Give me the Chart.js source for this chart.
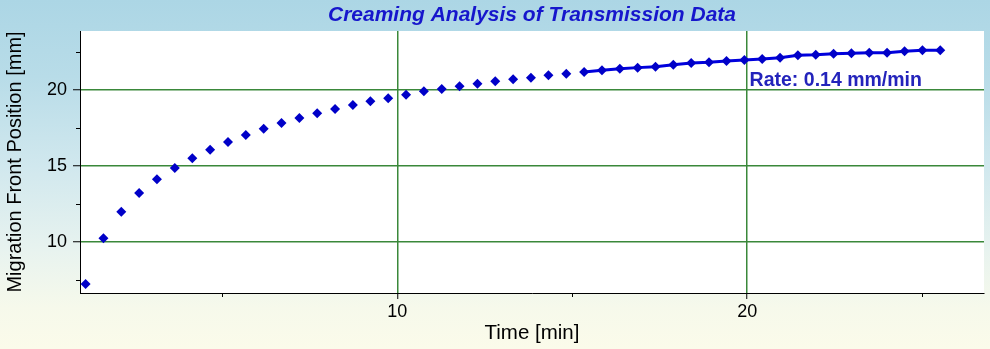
<!DOCTYPE html>
<html>
<head>
<meta charset="utf-8">
<script src="https://cdn.jsdelivr.net/npm/chart.js@4"></script>
<style>
  html, body { margin: 0; padding: 0; }
  body {
    width: 990px;
    height: 349px;
    background: linear-gradient(to bottom, #acd6e5 0%, #b8dce8 22%, #d1e8ee 48%, #e8f3ef 72%, #f6f9eb 88%, #fbfbea 100%);
  }
</style>
</head>
<body>
<canvas id="creamChart" width="990" height="349"></canvas>
<script>
// Time [min] of each transmission scan
const times = [
    1.09, 1.60, 2.11, 2.62, 3.13, 3.64, 4.14, 4.65, 5.16, 5.67,
    6.18, 6.69, 7.20, 7.71, 8.22, 8.73, 9.23, 9.74, 10.25, 10.76,
    11.27, 11.78, 12.29, 12.80, 13.31, 13.82, 14.32, 14.83, 15.34, 15.85,
    16.36, 16.87, 17.38, 17.89, 18.40, 18.91, 19.41, 19.92, 20.43, 20.94,
    21.45, 21.96, 22.47, 22.98, 23.49, 24.00, 24.50, 25.01, 25.52
];
// Migration front position [mm]
const positions = [
    7.22, 10.22, 11.97, 13.20, 14.10, 14.85, 15.49, 16.05, 16.56, 17.02,
    17.42, 17.81, 18.14, 18.45, 18.73, 18.99, 19.24, 19.43, 19.67, 19.89,
    20.04, 20.23, 20.39, 20.55, 20.68, 20.79, 20.95, 21.05, 21.16, 21.28,
    21.38, 21.45, 21.51, 21.64, 21.76, 21.80, 21.89, 21.95, 22.02, 22.10,
    22.26, 22.30, 22.37, 22.39, 22.43, 22.43, 22.53, 22.59, 22.59
];
const fitFrom = 15.3;            // rate is evaluated from here on
const xLabelled = [10, 20];
const yLabelled = [10, 15, 20];
const rateText = 'Rate: 0.14 mm/min';
const rateAt = { x: 20.07, y: 20.6 };
const chartTitle = 'Creaming Analysis of Transmission Data';

const FONT = '"Liberation Sans", Arial, sans-serif';
const GRID_GREEN = '#3a883a';

const scanPoints = times.map((t, i) => ({ x: t, y: positions[i] }));
const fitPoints = scanPoints.filter(p => p.x >= fitFrom);

const isXMajor = v => xLabelled.includes(v);
const isYMajor = v => yLabelled.includes(v);

// white plot area, title, short minor ticks and rate label
const decorations = {
    id: 'decorations',
    beforeDraw(chart) {
        const { ctx, chartArea: a } = chart;
        ctx.save();
        ctx.fillStyle = '#ffffff';
        ctx.fillRect(a.left, a.top, a.right - a.left, a.bottom - a.top);
        ctx.restore();
    },
    afterDatasetsDraw(chart) {
        const { ctx, chartArea: a, scales } = chart;
        ctx.save();
        // title
        ctx.font = 'italic bold 21px ' + FONT;
        ctx.fillStyle = '#1616cc';
        ctx.textAlign = 'center';
        ctx.textBaseline = 'middle';
        ctx.fillText(chartTitle, (a.left + a.right) / 2, 15);

        // minor ticks
        ctx.strokeStyle = '#000';
        ctx.lineWidth = 1;
        ctx.beginPath();
        scales.x.ticks.forEach(t => {
            if (isXMajor(t.value)) return;
            const px = Math.round(scales.x.getPixelForValue(t.value)) + 0.5;
            ctx.moveTo(px, a.bottom);
            ctx.lineTo(px, a.bottom + 4);
        });
        scales.y.ticks.forEach(t => {
            if (isYMajor(t.value)) return;
            const py = Math.round(scales.y.getPixelForValue(t.value)) + 0.5;
            ctx.moveTo(a.left, py);
            ctx.lineTo(a.left - 4, py);
        });
        ctx.stroke();

        // rate label
        ctx.font = 'bold 19.5px ' + FONT;
        ctx.fillStyle = '#2323bb';
        ctx.textAlign = 'left';
        ctx.fillText(rateText, scales.x.getPixelForValue(rateAt.x), scales.y.getPixelForValue(rateAt.y));
        ctx.restore();
    }
};

Chart.defaults.color = '#000';
Chart.defaults.font.family = FONT;

new Chart(document.getElementById('creamChart'), {
    type: 'scatter',
    data: {
        datasets: [{
            label: 'Migration front',
            data: scanPoints,
            pointStyle: 'rectRot',
            pointRadius: 5,
            borderWidth: 0,
            backgroundColor: '#0000c8',
            borderColor: '#0000c8',
            showLine: false,
            order: 0
        },
        {
            label: 'Rate fit',
            data: fitPoints,
            showLine: true,
            borderColor: '#0000dd',
            borderWidth: 3,
            pointRadius: 0,
            order: 1
        }]
    },
    options: {
        responsive: false,
        animation: false,
        devicePixelRatio: 1,
        layout: {
            padding: { top: 31, right: 6, left: 0, bottom: 0 }
        },
        plugins: {
            legend: { display: false },
            tooltip: { enabled: false },
            title: { display: false }
        },
        scales: {
            x: {
                type: 'linear',
                min: 0.93,
                max: 26.77,
                afterFit: s => { s.height = 56; },
                border: { display: true, color: '#000', width: 1 },
                grid: {
                    color: c => (c.tick && isXMajor(c.tick.value)) ? GRID_GREEN : 'rgba(0,0,0,0)',
                    lineWidth: 1.5,
                    tickColor: c => (c.tick && isXMajor(c.tick.value)) ? '#000' : 'rgba(0,0,0,0)',
                    tickWidth: 1,
                    tickLength: 6
                },
                ticks: {
                    stepSize: 5,
                    includeBounds: false,
                    autoSkip: false,
                    maxRotation: 0,
                    padding: 2,
                    font: { size: 18 },
                    callback: v => isXMajor(v) ? String(v) : ''
                },
                title: {
                    display: true,
                    text: 'Time [min]',
                    font: { size: 20.5 },
                    padding: { top: 0, bottom: 3 }
                }
            },
            y: {
                type: 'linear',
                min: 6.62,
                max: 23.86,
                afterFit: s => { s.width = 80; },
                border: { display: true, color: '#000', width: 1 },
                grid: {
                    color: c => (c.tick && isYMajor(c.tick.value)) ? GRID_GREEN : 'rgba(0,0,0,0)',
                    lineWidth: 1.5,
                    tickColor: c => (c.tick && isYMajor(c.tick.value)) ? '#000' : 'rgba(0,0,0,0)',
                    tickWidth: 1,
                    tickLength: 7
                },
                ticks: {
                    stepSize: 2.5,
                    includeBounds: false,
                    autoSkip: false,
                    padding: 6,
                    font: { size: 18 },
                    callback: v => isYMajor(v) ? String(v) : ''
                },
                title: {
                    display: true,
                    text: 'Migration Front Position [mm]',
                    font: { size: 20 },
                    padding: { top: 3, bottom: 0 }
                }
            }
        }
    },
    plugins: [decorations]
});
</script>
</body>
</html>
